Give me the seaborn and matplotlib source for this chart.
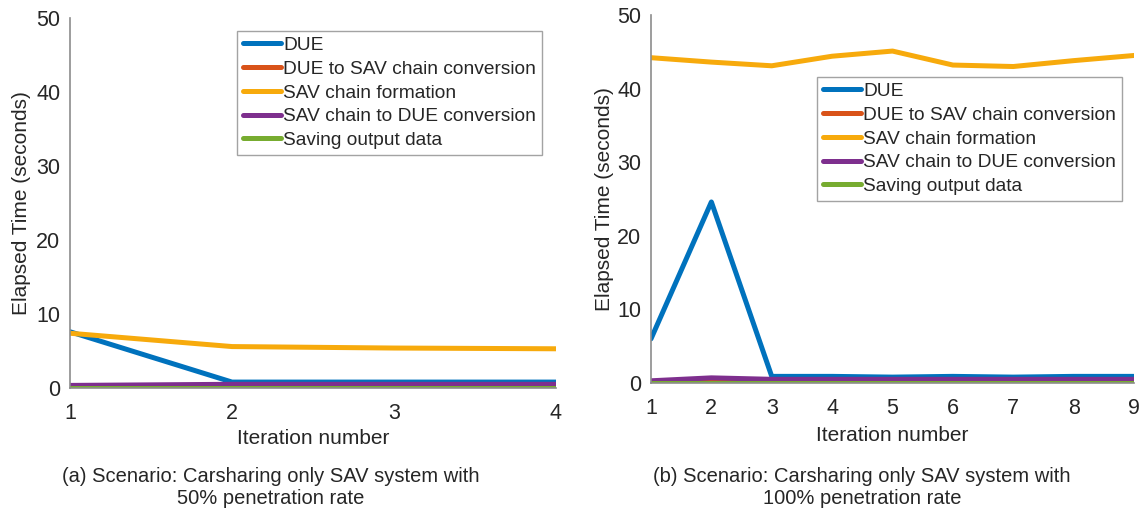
import numpy as np
import pandas as pd
import matplotlib
matplotlib.use("Agg")
import matplotlib.pyplot as plt
import seaborn as sns

series_names = ["DUE", "DUE to SAV chain conversion", "SAV chain formation",
                "SAV chain to DUE conversion", "Saving output data"]
colors = ["#0072BD", "#D95319", "#F7AA0C", "#7E2F8E", "#77AC30"]

iters_a = [1, 2, 3, 4]
due_a = [7.6, 0.8, 0.8, 0.8]
due_to_sav_a = [0.1, 0.1, 0.1, 0.1]
sav_form_a = [7.4, 5.6, 5.4, 5.3]
sav_to_due_a = [0.35, 0.5, 0.5, 0.5]
saving_a = [0.05, 0.05, 0.05, 0.05]

iters_b = [1, 2, 3, 4, 5, 6, 7, 8, 9]
due_b = [6.0, 24.6, 0.9, 0.9, 0.8, 0.9, 0.8, 0.9, 0.9]
due_to_sav_b = [0.1, 0.1, 0.1, 0.1, 0.1, 0.1, 0.1, 0.1, 0.1]
sav_form_b = [44.2, 43.6, 43.1, 44.4, 45.1, 43.2, 43.0, 43.8, 44.5]
sav_to_due_b = [0.3, 0.7, 0.5, 0.5, 0.5, 0.5, 0.5, 0.5, 0.5]
saving_b = [0.05, 0.05, 0.05, 0.05, 0.05, 0.05, 0.05, 0.05, 0.05]

captions = ["(a) Scenario: Carsharing only SAV system with\n50% penetration rate",
            "(b) Scenario: Carsharing only SAV system with\n100% penetration rate"]


def long_df(iters, vals):
    rows = []
    for name, v in zip(series_names, vals):
        for i, y in zip(iters, v):
            rows.append({"Iteration": i, "Time": y, "Series": name})
    return pd.DataFrame(rows)


df_a = long_df(iters_a, [due_a, due_to_sav_a, sav_form_a, sav_to_due_a, saving_a])
df_b = long_df(iters_b, [due_b, due_to_sav_b, sav_form_b, sav_to_due_b, saving_b])

sns.set_style("white")
plt.rcParams["font.family"] = ["Liberation Sans", "DejaVu Sans"]

W, H = 1147, 512
fig = plt.figure(figsize=(W / 100, H / 100), dpi=100)
# axes boxes in pixels: left, right, top, bottom
box_a = (70, 556, 18, 388)
box_b = (651, 1134, 15, 383)


def add_ax(b):
    l, r, t, bt = b
    return fig.add_axes([l / W, 1 - bt / H, (r - l) / W, (bt - t) / H])


ax_a = add_ax(box_a)
ax_b = add_ax(box_b)

palette = dict(zip(series_names, colors))
settings = [
    (ax_a, df_a, iters_a, box_a, (237, 31), 31, 429),
    (ax_b, df_b, iters_b, box_b, (817, 77), 614, 426),
]
for ax, df, iters, b, leg_px, ylab_x, xlab_y in settings:
    l, r, t, bt = b
    sns.lineplot(data=df, x="Iteration", y="Time", hue="Series",
                 hue_order=series_names, palette=palette, linewidth=3.6,
                 ax=ax, legend=True)
    ax.set_xlim(iters[0], iters[-1])
    ax.set_ylim(0, 50)
    ax.set_xticks(iters)
    ax.set_yticks([0, 10, 20, 30, 40, 50])
    ax.tick_params(axis="both", direction="in", length=3, labelsize=15.5,
                   colors="#8c8c8c", labelcolor="#262626")
    ax.tick_params(axis="y", pad=7)
    ax.tick_params(axis="x", pad=11)
    for s in ["top", "right"]:
        ax.spines[s].set_visible(False)
    for s in ["left", "bottom"]:
        ax.spines[s].set_color("#8c8c8c")
        ax.spines[s].set_linewidth(1.2)
    ax.set_xlabel("Iteration number", fontsize=15, color="#262626")
    ax.set_ylabel("Elapsed Time (seconds)", fontsize=15, color="#262626")
    ax.xaxis.set_label_coords(0.5, -(xlab_y - bt) / (bt - t))
    ax.yaxis.set_label_coords(-(l - ylab_x) / (r - l), 0.5)
    anchor = ((leg_px[0] - l) / (r - l), (bt - leg_px[1]) / (bt - t))
    leg = ax.legend(loc="upper left", bbox_to_anchor=anchor, fontsize=13.8,
                    frameon=True, fancybox=False, handlelength=2.0,
                    handletextpad=0.12, borderpad=0.3, labelspacing=0.33,
                    borderaxespad=0)
    leg.get_frame().set_edgecolor("#8c8c8c")
    leg.get_frame().set_linewidth(1.0)
    for h in leg.get_lines():
        h.set_linewidth(3.6)

fig.text(271 / W, 1 - 487 / H, captions[0], ha="center", va="center",
         fontsize=14.5, color="#262626", linespacing=1.2)
fig.text(862 / W, 1 - 487 / H, captions[1], ha="center", va="center",
         fontsize=14.5, color="#262626", linespacing=1.2)

fig.savefig("out.png", dpi=100)
